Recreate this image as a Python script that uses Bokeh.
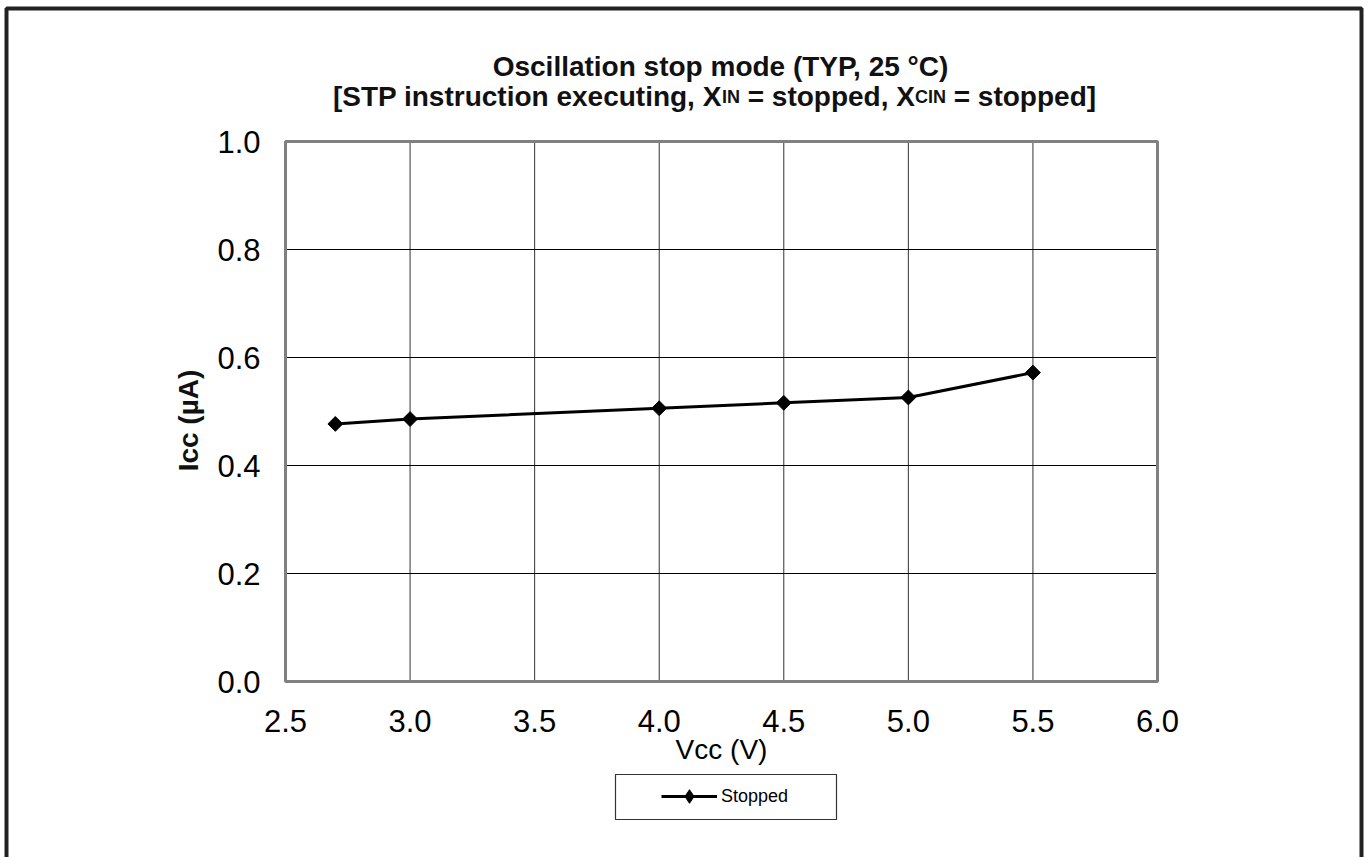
import math
from bokeh.plotting import figure
from bokeh.models import (Range1d, FixedTicker, PrintfTickFormatter, Label,
                          BoxAnnotation, Legend, LegendItem)
from bokeh.embed import file_html
from bokeh.resources import INLINE

# ---------------- data ----------------
vcc = [2.7, 3.0, 4.0, 4.5, 5.0, 5.5]
icc = [0.477, 0.486, 0.506, 0.516, 0.526, 0.572]
x_ticks = [2.5, 3.0, 3.5, 4.0, 4.5, 5.0, 5.5, 6.0]
y_ticks = [0.0, 0.2, 0.4, 0.6, 0.8, 1.0]
series_name = "Stopped"
title_line1 = "Oscillation stop mode (TYP, 25 °C)"
title_line2_parts = [("[STP instruction executing, X", False), ("IN", True),
                     (" = stopped, X", False), ("CIN", True), (" = stopped]", False)]
x_label = "Vcc (V)"
y_label = "Icc (µA)"

FONT = "Liberation Sans"

# Arial/Liberation Sans Bold advance widths (per 1000 em)
BOLD_W = {' ': 278, '(': 333, ')': 333, ',': 278, '=': 584, '[': 333, ']': 333, '°': 400,
          'A': 722, 'C': 722, 'I': 278, 'N': 722, 'O': 778, 'P': 667, 'S': 667, 'T': 611,
          'X': 667, 'Y': 667, 'a': 556, 'c': 556, 'd': 611, 'e': 556, 'g': 611, 'i': 278,
          'l': 278, 'm': 889, 'n': 611, 'o': 611, 'p': 611, 'r': 389, 's': 556, 't': 333,
          'u': 611, 'x': 556}
for ch in "0123456789":
    BOLD_W[ch] = 556


def bold_width(s, size):
    return sum(BOLD_W.get(c, 556) for c in s) * size / 1000.0


# ---------------- layout (pixels in the picture) ----------------
W, H = 1368, 857
PL, PR, PT, PB = 285, 1157, 141, 681      # plot area edges
BASE_FIX = 10                             # alphabetic baseline correction

x_lo, x_hi = x_ticks[0], x_ticks[-1]
y_lo, y_hi = y_ticks[0], y_ticks[-1]
kx = (PR - PL) / (x_hi - x_lo)
ky = (PB - PT) / (y_hi - y_lo)
x_range = Range1d(x_lo - PL / kx, x_hi + (W - PR) / kx)
y_range = Range1d(y_lo - (H - PB) / ky, y_hi + PT / ky)

p = figure(width=W, height=H, output_backend="svg", toolbar_location=None,
           x_range=x_range, y_range=y_range, min_border=0,
           background_fill_color="white", border_fill_color="white")
p.outline_line_color = None
p.xgrid.visible = False
p.ygrid.visible = False


def sx(px):       # picture x -> frame screen x
    return px


def sy(py):       # picture y -> frame screen y (upwards)
    return H - py


# plot area background
p.quad(left=[x_lo], right=[x_hi], bottom=[y_lo], top=[y_hi],
       fill_color="white", line_color=None)

# grid lines
p.segment(x0=x_ticks, y0=[y_lo] * len(x_ticks), x1=x_ticks, y1=[y_hi] * len(x_ticks),
          line_color="#333333", line_width=1)
p.segment(x0=[x_lo] * len(y_ticks), y0=y_ticks, x1=[x_hi] * len(y_ticks), y1=y_ticks,
          line_color="black", line_width=1)

# plot area outline
p.quad(left=[x_lo], right=[x_hi], bottom=[y_lo], top=[y_hi],
       fill_color=None, line_color="#808080", line_width=3)

# axes at fixed locations
p.xaxis.fixed_location = y_lo
p.yaxis.fixed_location = x_lo
for ax in (p.xaxis, p.yaxis):
    ax.axis_line_color = None
    ax.major_tick_line_color = None
    ax.minor_tick_line_color = None
    ax.major_label_text_font = FONT
    ax.major_label_text_font_size = "31px"
    ax.major_label_text_color = "black"
    ax.formatter = PrintfTickFormatter(format="%.1f")
p.xaxis.ticker = FixedTicker(ticks=x_ticks)
p.yaxis.ticker = FixedTicker(ticks=y_ticks)
p.xaxis.major_label_standoff = 22
p.yaxis.major_label_standoff = 19

# data
line_r = p.line(vcc, icc, line_color="black", line_width=3)
# diamond used for the legend symbol, hidden below the plotted markers
leg_marker = p.scatter(vcc, icc, marker="diamond", size=11,
                       fill_color="black", line_color="black")
sc_r = p.scatter(vcc, icc, marker="square", angle=math.pi / 4, size=10.5,
                 fill_color="black", line_color="black")

# ---------------- titles ----------------
p.add_layout(Label(x=sx(720), y=sy(76 - BASE_FIX), x_units="screen", y_units="screen",
                   text=title_line1, text_font=FONT, text_font_size="28px",
                   text_font_style="bold", text_align="center",
                   text_baseline="alphabetic", text_color="#111111"))

MAIN, SUB = 28, 18
total = sum(bold_width(t, SUB if s else MAIN) for t, s in title_line2_parts)
cx = sx(714) - total / 2.0
for t, s in title_line2_parts:
    size = SUB if s else MAIN
    stripped = t.lstrip(" ")
    cx += bold_width(t[:len(t) - len(stripped)], size)
    p.add_layout(Label(x=cx, y=sy(106 - BASE_FIX), x_units="screen", y_units="screen",
                       text=stripped, text_font=FONT, text_font_size=f"{size}px",
                       text_font_style="bold", text_align="left",
                       text_baseline="alphabetic", text_color="#111111"))
    cx += bold_width(stripped, size)

# axis labels
p.add_layout(Label(x=sx(721), y=sy(759 - BASE_FIX), x_units="screen", y_units="screen",
                   text=x_label, text_font=FONT, text_font_size="28px",
                   text_align="center", text_baseline="alphabetic", text_color="black"))
p.add_layout(Label(x=sx(198 - BASE_FIX), y=sy(420), x_units="screen", y_units="screen",
                   text=y_label, text_font=FONT, text_font_size="28px",
                   text_font_style="bold", angle=math.pi / 2, text_align="center",
                   text_baseline="alphabetic", text_color="#111111"))

# legend box
p.add_layout(BoxAnnotation(left=sx(615), right=sx(836), top=sy(774), bottom=sy(819),
                           left_units="screen", right_units="screen",
                           top_units="screen", bottom_units="screen",
                           fill_color=None, line_color="#333333", line_alpha=1.0,
                           line_width=1.2))

legend = Legend(items=[LegendItem(label=series_name, renderers=[line_r, leg_marker])],
                location=(sx(661), sy(796 + 17)),
                glyph_width=56, glyph_height=34, label_standoff=4,
                label_height=34, padding=0, margin=0, spacing=0,
                border_line_alpha=0, background_fill_alpha=0,
                label_text_font=FONT, label_text_font_size="18px",
                label_text_color="black")
p.add_layout(legend, "center")

# outer chart border
p.add_layout(BoxAnnotation(left=sx(6), right=sx(1361), top=sy(8), bottom=-400,
                           left_units="screen", right_units="screen",
                           top_units="screen", bottom_units="screen",
                           fill_color=None, line_color="#222222", line_alpha=1.0,
                           line_width=4))

open("out.html", "w").write(file_html(p, INLINE))
